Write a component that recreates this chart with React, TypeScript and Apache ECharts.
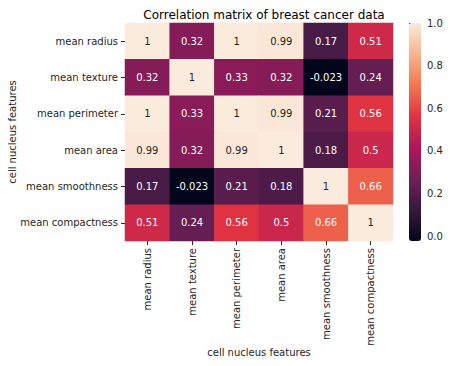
import React, { useEffect, useRef } from 'react';
import * as echarts from 'echarts';

const features = [
  'mean radius',
  'mean texture',
  'mean perimeter',
  'mean area',
  'mean smoothness',
  'mean compactness',
];
const rowRadius = [1, 0.32, 1, 0.99, 0.17, 0.51];
const rowTexture = [0.32, 1, 0.33, 0.32, -0.023, 0.24];
const rowPerimeter = [1, 0.33, 1, 0.99, 0.21, 0.56];
const rowArea = [0.99, 0.32, 0.99, 1, 0.18, 0.5];
const rowSmoothness = [0.17, -0.023, 0.21, 0.18, 1, 0.66];
const rowCompactness = [0.51, 0.24, 0.56, 0.5, 0.66, 1];
const matrix = [rowRadius, rowTexture, rowPerimeter, rowArea, rowSmoothness, rowCompactness];

const colorMin = -0.023;
const colorMax = 1;
const colorbarTicks = [0, 0.2, 0.4, 0.6, 0.8, 1.0];
const rocketStops = ['#03051a', '#35193e', '#701f57', '#ad1759', '#e13342', '#f37651', '#f6b48f', '#faebdd'];

const FONT = 'DejaVu Sans';
const TEXT = '#262626';

function fmt(v: number): string {
  return String(parseFloat(v.toPrecision(2)));
}

export default function App() {
  const ref = useRef<HTMLDivElement>(null);
  useEffect(() => {
    if (!ref.current) return;
    const chart = echarts.init(ref.current, undefined, { renderer: 'svg' });
    const data: any[] = [];
    matrix.forEach((row, i) => {
      row.forEach((v, j) => {
        data.push({
          value: [j, i, v],
          label: { color: v > 0.9 ? TEXT : '#ffffff' },
        });
      });
    });
    chart.setOption({
      animation: false,
      backgroundColor: '#ffffff',
      textStyle: { fontFamily: FONT },
      title: {
        text: 'Correlation matrix of breast cancer data',
        left: 259,
        textAlign: 'center',
        top: 4,
        textStyle: { fontFamily: FONT, fontSize: 12, fontWeight: 'normal', color: '#000' },
      },
      grid: [
        { left: 125, top: 23, width: 268, height: 218, outerBoundsMode: 'none', containLabel: false },
        { left: 409, top: 23, width: 12, height: 218, outerBoundsMode: 'none', containLabel: false },
      ],
      xAxis: [
        {
          type: 'category',
          gridIndex: 0,
          data: features,
          axisLine: { show: false },
          axisTick: { show: true, alignWithLabel: true, length: 4, lineStyle: { color: TEXT } },
          axisLabel: { rotate: 90, margin: 7, fontSize: 10, color: TEXT, interval: 0, fontFamily: FONT },
          splitLine: { show: false },
          name: 'cell nucleus features',
          nameLocation: 'middle',
          nameGap: 106,
          nameMoveOverlap: false,
          nameTextStyle: { fontSize: 10, color: TEXT, fontFamily: FONT },
        },
        { type: 'value', gridIndex: 1, show: false, min: 0, max: 1 },
      ],
      yAxis: [
        {
          type: 'category',
          gridIndex: 0,
          data: features,
          inverse: true,
          axisLine: { show: false },
          axisTick: { show: true, alignWithLabel: true, length: 4, lineStyle: { color: TEXT } },
          axisLabel: { margin: 7, fontSize: 10, color: TEXT, interval: 0, fontFamily: FONT },
          splitLine: { show: false },
          name: 'cell nucleus features',
          nameLocation: 'middle',
          nameGap: 108,
          nameMoveOverlap: false,
          nameRotate: 90,
          nameTextStyle: { fontSize: 10, color: TEXT, fontFamily: FONT },
        },
        {
          type: 'value',
          gridIndex: 1,
          position: 'right',
          min: colorMin,
          max: colorMax,
          axisLine: { show: false },
          splitLine: { show: false },
          axisTick: { show: true, length: 4, lineStyle: { color: TEXT }, customValues: colorbarTicks },
          axisLabel: {
            margin: 6,
            fontSize: 10,
            color: TEXT,
            fontFamily: FONT,
            customValues: colorbarTicks,
            formatter: (v: number) => v.toFixed(1),
          },
        },
      ],
      visualMap: {
        type: 'continuous',
        min: colorMin,
        max: colorMax,
        seriesIndex: 0,
        left: 409,
        top: 23,
        padding: 0,
        itemWidth: 12,
        itemHeight: 218,
        calculable: false,
        hoverLink: false,
        inRange: { color: rocketStops },
      },
      series: [
        {
          type: 'heatmap',
          xAxisIndex: 0,
          yAxisIndex: 0,
          data,
          label: {
            show: true,
            fontSize: 10,
            fontFamily: FONT,
            formatter: (p: any) => fmt(p.value[2]),
          },
          itemStyle: { borderWidth: 0 },
          emphasis: { disabled: true },
        },
      ],
    });
    return () => chart.dispose();
  }, []);
  return (
    <div
      ref={ref}
      style={{ position: 'fixed', left: 0, top: 0, width: 450, height: 366, background: '#fff' }}
    />
  );
}
